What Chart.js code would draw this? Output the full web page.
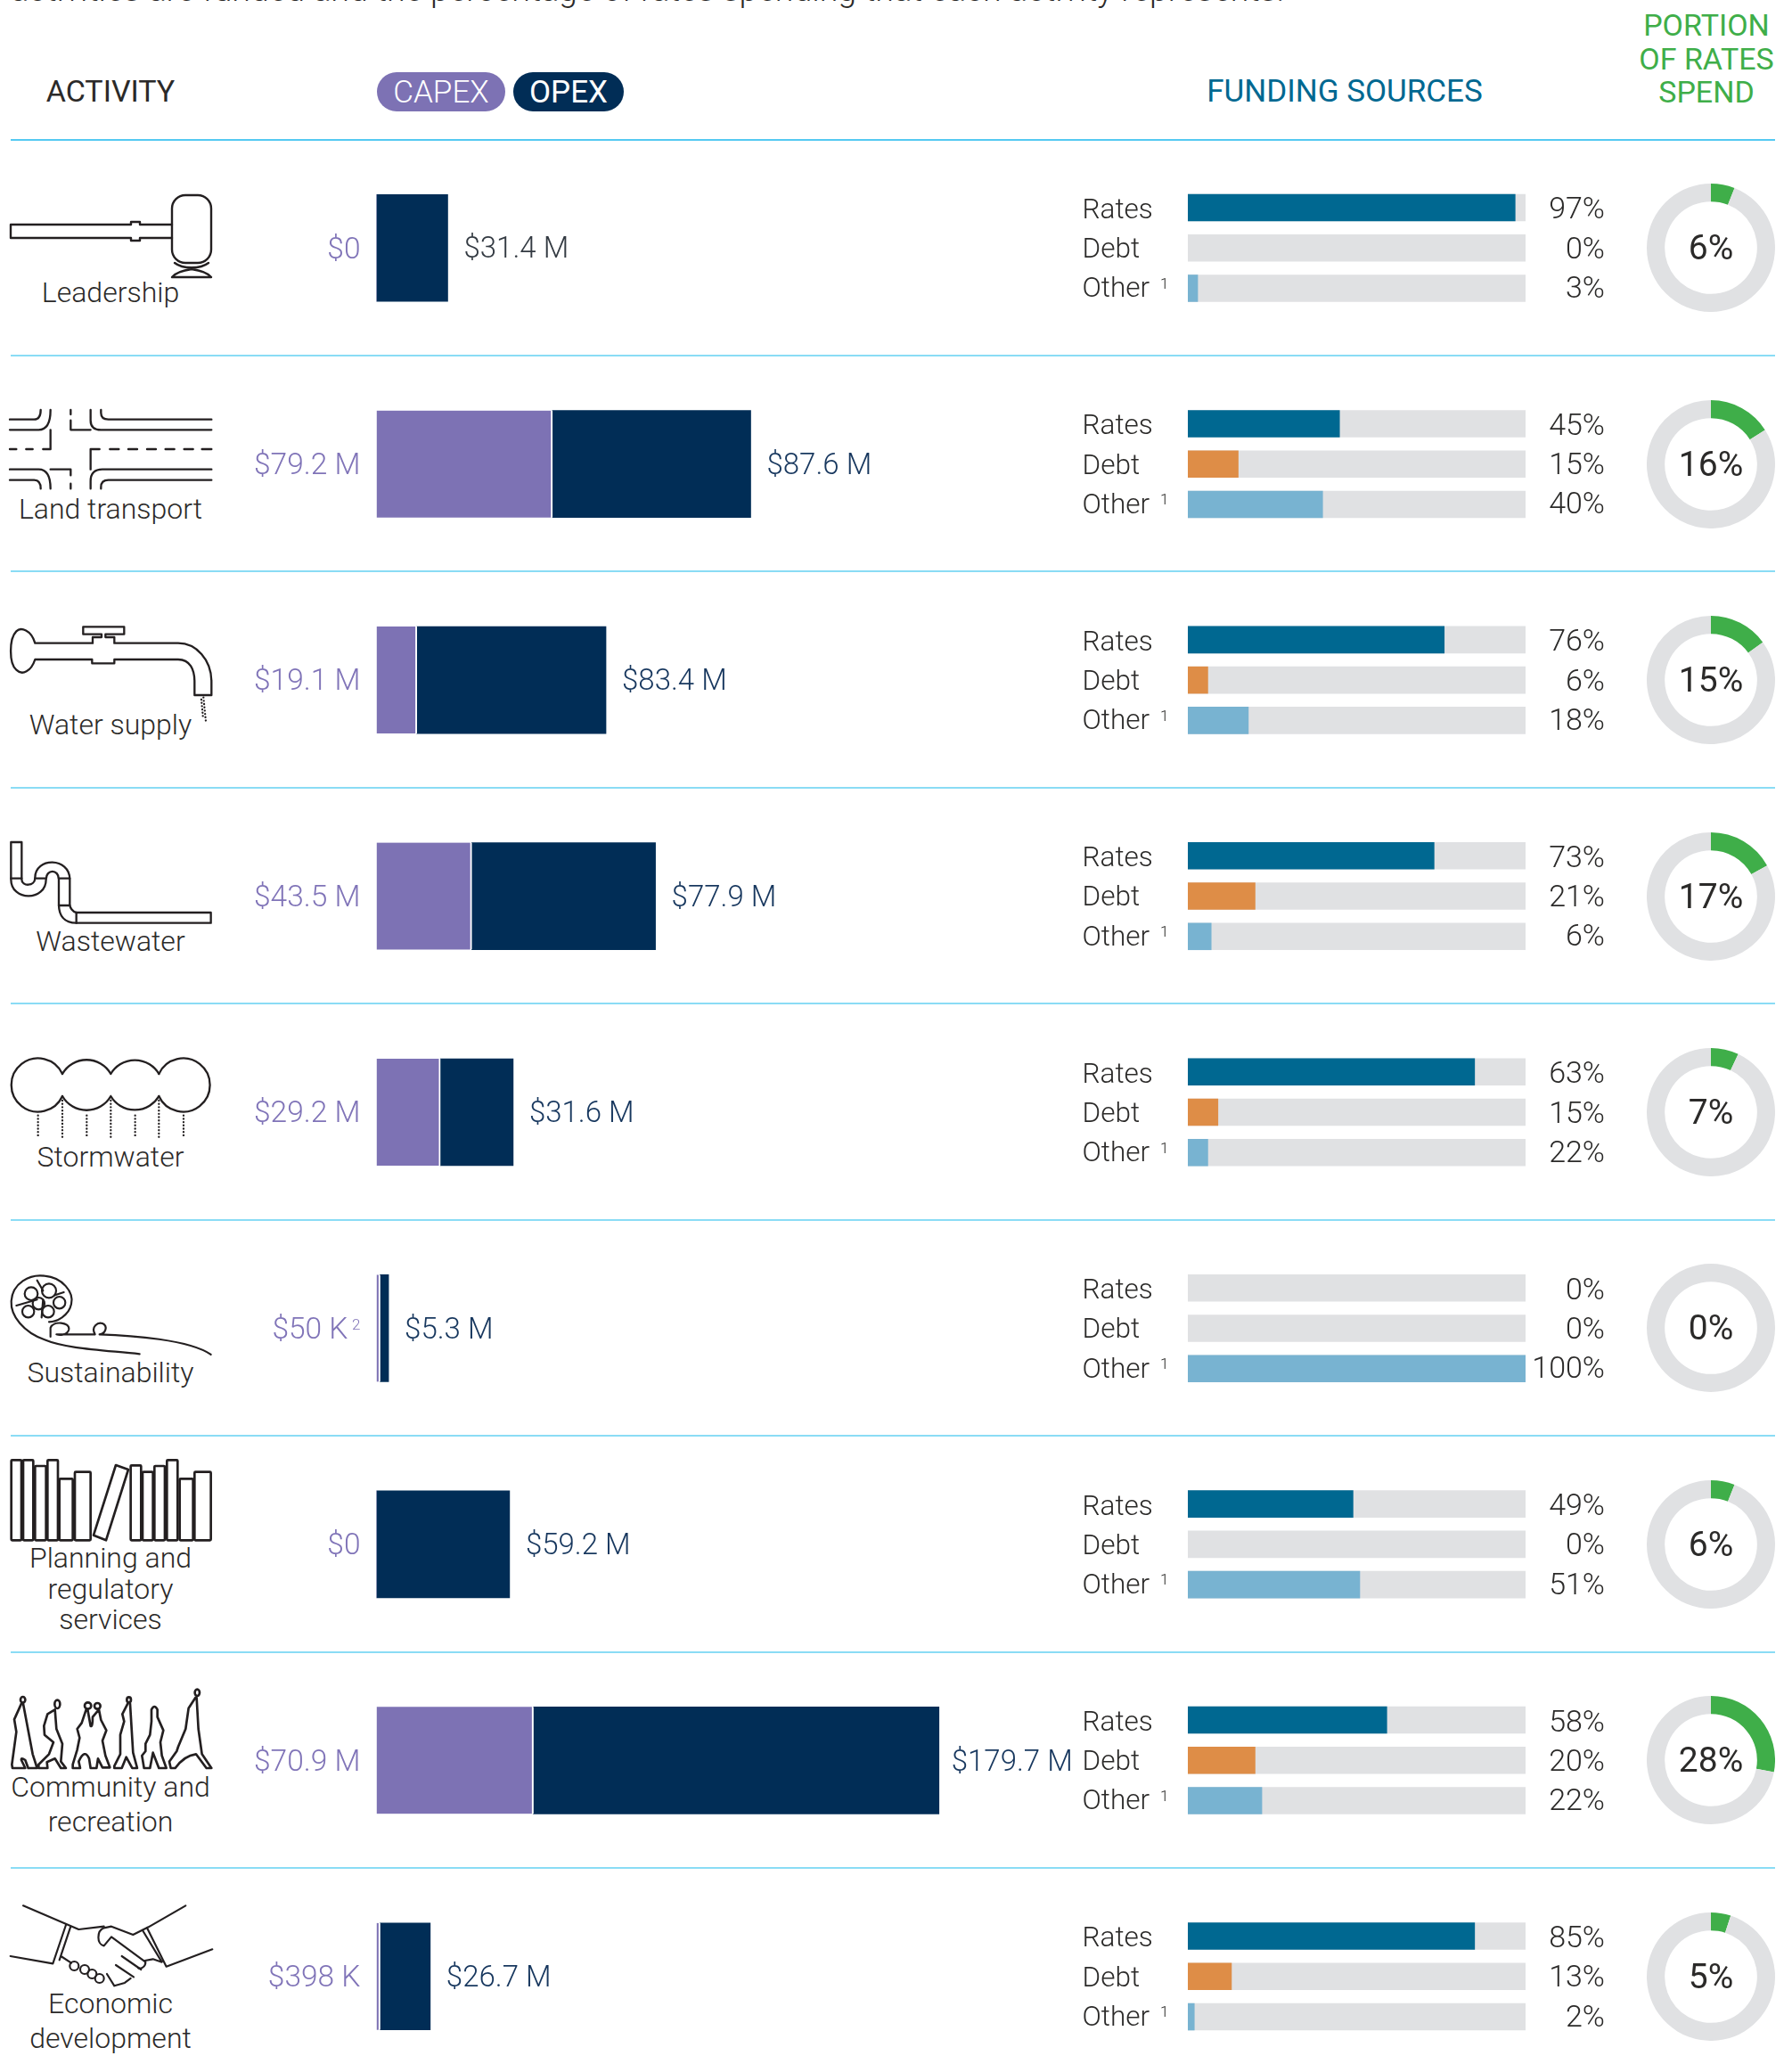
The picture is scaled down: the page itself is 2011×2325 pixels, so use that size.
<!DOCTYPE html>
<html>
<head>
<meta charset="utf-8">
<script src="https://cdn.jsdelivr.net/npm/chart.js@4"></script>
<style>
  html, body { margin: 0; padding: 0; background: #fff; }
  #page { position: relative; width: 2011px; height: 2325px; overflow: hidden; font-family: Roboto, sans-serif; font-weight: 300; color: #2b2a29; }
  #page canvas { position: absolute; }
  .txt { position: absolute; white-space: nowrap; transform: translate(-50%, -50%); font-size: 32px; line-height: 1; }
  .head { font-size: 34px; font-weight: 400; }
  .line { position: absolute; left: 12px; width: 1980px; height: 2px; background: #8adcf5; }
  .pill { position: absolute; top: 81px; height: 44px; border-radius: 22px; color: #fff; font-size: 35px; line-height: 45px; text-align: center; }
  svg { position: absolute; left: 0; top: 0; }
  svg * { fill: none; stroke: #231f20; stroke-linejoin: round; stroke-linecap: round; }
</style>
</head>
<body>
<div id="page">
  <div class="txt" id="intro" style="left:12px;top:-30px;transform:none;font-size:37.5px;">activities are funded and the percentage of rates spending that each activity represents.</div>
  <div class="txt head" style="left:124px;top:102px;">ACTIVITY</div>
  <div class="pill" style="left:423px;width:144px;background:#7d72b4;">CAPEX</div>
  <div class="pill" style="left:576px;width:124px;background:#012d56;font-weight:400;">OPEX</div>
  <div class="txt head" style="left:1509px;top:102px;font-size:35px;color:#006891;">FUNDING SOURCES</div>
  <div class="txt head" style="left:1915px;top:28px;color:#3fae49;">PORTION</div>
  <div class="txt head" style="left:1915px;top:66px;color:#3fae49;">OF RATES</div>
  <div class="txt head" style="left:1915px;top:103px;color:#3fae49;">SPEND</div>

  <svg width="2011" height="2325">
    <!-- gavel -->
    <g transform="translate(0,-1)" stroke-width="2.4">
      <path d="M193 253H157V250H147V253H12V268H147V271H157V268H193"/>
      <rect x="193" y="220" width="44" height="76" rx="15"/>
      <path d="M196 296C205 303 225 303 234 296M193 312H237C232 306 222 304 215 303C208 304 198 306 193 312Z"/>
    </g>
    <!-- roads -->
    <g transform="translate(0,440) scale(0.3333)" stroke-width="7" stroke-linecap="butt">
      <path d="M33 92H115Q137 92 137 60M33 127H130Q170 127 170 60M170 127V192H145M33 192H55M88 192H110"/>
      <path d="M238 60V75M238 95V127H305M305 60V95Q305 127 340 127H712M340 60V70Q340 92 365 92H712"/>
      <path d="M305 260V192H335M370 192H400M432 192H462M495 192H525M557 192H587M620 192H650M680 192H712"/>
      <path d="M33 260H130Q170 260 170 325M33 296H115Q137 296 137 325M170 260H238V280M238 308V325"/>
      <path d="M305 325V300Q305 260 345 260H712M340 325V320Q340 296 365 296H712"/>
    </g>
    <!-- tap -->
    <g transform="translate(0,690) scale(0.3333)" stroke-width="7">
      <path d="M118 95C105 50 70 40 55 55C30 80 30 165 55 185C75 205 105 190 118 150H310V163H385V150H600C640 150 655 185 655 225V270H712V225C712 150 660 95 600 95H385V75H355V65H418V40H280V65H342V75H312V95Z"/>
      <path d="M685 278L693 358M678 285L684 350" stroke-dasharray="0.1 11"/>
    </g>
    <!-- pipe -->
    <g transform="translate(0,930) scale(0.3333)" stroke-width="7">
      <path d="M37 45H73V170C73 195 118 195 118 165C118 95 235 95 235 170V255C235 265 245 280 257 282H710V317H257C215 317 198 290 198 255V170C198 135 155 135 155 170C155 245 37 245 37 170Z"/>
      <path d="M37 167H73M118 167H155M198 167H235M198 258H235M257 282V317"/>
    </g>
    <!-- clouds -->
    <g transform="translate(0,1180) scale(0.3333)" stroke-width="7">
      <path d="M210 75A90 90 0 1 0 210 150M535 75A90 90 0 1 1 535 150"/>
      <path d="M210 75A94 94 0 0 1 373 75M373 75A94 94 0 0 1 535 75M210 150A94 94 0 0 0 373 150M373 150A94 94 0 0 0 535 150"/>
      <path d="M128 215V288M210 165V288M292 215V288M373 165V288M455 215V288M535 165V288M618 215V288" stroke-dasharray="0.1 11"/>
    </g>
    <!-- fern -->
    <g transform="translate(0,1420) scale(0.3333)" stroke-width="6.5">
      <path d="M470 298C350 285 220 280 150 250C80 225 35 170 38 120C42 60 100 28 150 35C210 40 250 90 240 130C232 170 190 190 165 190"/>
      <path d="M170 240V210C180 185 235 190 232 215C228 235 200 235 190 232H320M320 232C305 205 330 190 345 195C365 205 355 230 335 232C440 235 640 250 710 300"/>
      <circle cx="105" cy="95" r="22"/><circle cx="165" cy="85" r="24"/><circle cx="95" cy="155" r="20"/><circle cx="162" cy="155" r="20"/><circle cx="200" cy="125" r="20"/><circle cx="130" cy="128" r="20"/>
      <path d="M125 50L145 85M55 135L125 115M140 175L145 115M185 100L215 90"/>
    </g>
    <!-- books -->
    <g transform="translate(0,1630) scale(0.3333)" stroke-width="8">
      <rect x="38" y="25" width="34" height="270" rx="3"/><rect x="78" y="25" width="34" height="270" rx="3"/><rect x="118" y="45" width="37" height="250" rx="3"/><rect x="160" y="25" width="35" height="270" rx="3"/><rect x="200" y="88" width="45" height="207" rx="3"/><rect x="252" y="65" width="53" height="230" rx="3"/>
      <path d="M390 42L432 57L357 295L315 278Z"/>
      <rect x="440" y="43" width="35" height="252" rx="3"/><rect x="480" y="65" width="35" height="230" rx="3"/><rect x="520" y="45" width="35" height="250" rx="3"/><rect x="562" y="25" width="36" height="270" rx="3"/><rect x="605" y="88" width="45" height="207" rx="3"/><rect x="655" y="65" width="55" height="230" rx="3"/>
    </g>
    <!-- people -->
    <g transform="translate(0,1890) scale(0.3333)" stroke-width="8">
      <ellipse cx="77" cy="52" rx="8" ry="10"/><path d="M72 65L48 118L55 160L40 270L42 282H85L72 255Q70 245 85 255L95 282H125L110 235L78 65"/>
      <ellipse cx="193" cy="67" rx="9" ry="14"/><path d="M185 85L160 100L148 140L150 170L180 195L165 235L130 270V282H160L158 262L185 250L205 282H222L205 260L210 200L190 150L185 85"/>
      <circle cx="296" cy="72" r="11"/><circle cx="328" cy="73" r="10"/><path d="M290 85L275 130L260 150L268 180L260 220L245 270V282H270L265 260Q285 215 300 250L305 282H325L330 250L345 280H370L355 240L345 190L358 155L340 120L333 85L312 110Q312 145 305 140L295 85"/>
      <ellipse cx="434" cy="52" rx="7" ry="9"/><path d="M430 65L412 100L418 125L405 170V235L385 275V282H410L425 245L445 282H462L448 230L438 65"/>
      <path d="M510 85V125L505 170L490 200V225L478 240L485 282H505L515 230L535 282H560L545 240L540 195L550 155L530 110V85Q520 65 510 85Z"/>
      <ellipse cx="664" cy="28" rx="8" ry="11"/><path d="M658 45L635 80L625 150L600 210L595 225L570 260L575 282H590Q620 240 660 235L695 282H712L680 235L668 150L662 45"/>
    </g>
    <!-- handshake -->
    <g transform="translate(0,2130) scale(0.3333)" stroke-width="6.5">
      <path d="M78 25L265 105L350 95M35 195L178 220L222 90M238 95L200 208M205 195L240 218"/>
      <path d="M625 25L500 97L448 123L375 95L350 100C325 110 325 155 350 160L375 130L490 215C490 230 475 240 465 235"/>
      <path d="M715 172L560 230L495 100M480 108L545 215L515 205L488 210"/>
      <path d="M410 195L475 240M390 225L450 265M360 255L385 295L420 285L440 270"/>
      <circle cx="250" cy="228" r="15"/><circle cx="285" cy="240" r="15"/><circle cx="310" cy="255" r="15"/><circle cx="335" cy="270" r="15"/>
    </g>
  </svg>

  <canvas id="spendChart" width="950" height="2182" style="left:270px;top:157px;"></canvas>
  <canvas id="fundingChart" width="620" height="2182" style="left:1210px;top:157px;"></canvas>
</div>

<script>
// activity names, split where the reference breaks the line
var activities = ['Leadership', 'Land transport', 'Water supply', 'Wastewater', 'Stormwater', 'Sustainability', 'Planning and regulatory services', 'Community and recreation', 'Economic development'];
var activityLines = [['Leadership'], ['Land transport'], ['Water supply'], ['Wastewater'], ['Stormwater'], ['Sustainability'], ['Planning and', 'regulatory', 'services'], ['Community and', 'recreation'], ['Economic', 'development']];

// capex / opex, bars as drawn in $M and their printed labels
var capexBars = [0, 78.5, 18, 42.5, 28.5, 1.6, 0, 70, 1.6];
var opexBars = [31.8, 88.5, 84.4, 82, 32.5, 3.8, 59.4, 181, 22.4];
var capexLabels = ['$0', '$79.2 M', '$19.1 M', '$43.5 M', '$29.2 M', '$50 K', '$0', '$70.9 M', '$398 K'];
var capexNotes = ['', '', '', '', '', '2', '', '', ''];
var opexLabels = ['$31.4 M', '$87.6 M', '$83.4 M', '$77.9 M', '$31.6 M', '$5.3 M', '$59.2 M', '$179.7 M', '$26.7 M'];

// funding sources, bars as drawn in % and their printed labels
var ratesBars = [97, 45, 76, 73, 85, 0, 49, 59, 85];
var debtBars = [0, 15, 6, 20, 9, 0, 0, 20, 13];
var otherBars = [3, 40, 18, 7, 6, 100, 51, 22, 2];
var ratesLabels = [97, 45, 76, 73, 63, 0, 49, 58, 85];
var debtLabels = [0, 15, 6, 21, 15, 0, 0, 20, 13];
var otherLabels = [3, 40, 18, 6, 22, 100, 51, 22, 2];
var trackValues = [100, 100, 100, 100, 100, 100, 100, 100, 100];

// portion of rates spend
var portionValues = [6, 16, 15, 17, 7, 0, 6, 28, 5];

var TOP = 157, ROW = 2182 / 9;
var FONT = 'Roboto, sans-serif';
var page = document.getElementById('page');

// row rules and activity names
for (var r = 0; r < 9; r++) {
  var rule = document.createElement('div');
  rule.className = 'line';
  rule.style.top = (TOP - 1.5 + r * ROW) + 'px';
  if (r == 0) rule.style.background = '#55c9f2';
  page.appendChild(rule);

  var names = activityLines[r];
  var offsets = names.length == 1 ? [50] : names.length == 2 ? [30, 69] : [15, 50, 84];
  names.forEach(function (t, i) {
    var d = document.createElement('div');
    d.className = 'txt';
    d.textContent = t;
    d.style.left = '124px';
    d.style.top = (TOP + (r + 0.5) * ROW + offsets[i]) + 'px';
    page.appendChild(d);
  });
}

var spendLabels = {
  id: 'spendLabels',
  afterDatasetsDraw: function (chart) {
    var ctx = chart.ctx, left = chart.scales.x.getPixelForValue(0);
    var opex = chart.getDatasetMeta(1).data;
    ctx.save();
    ctx.textBaseline = 'middle';
    opex.forEach(function (bar, i) {
      var right = left - 18;
      var y = bar.y + 3;
      ctx.fillStyle = '#8074b8';
      ctx.textAlign = 'right';
      if (capexNotes[i]) {
        ctx.font = '300 17px ' + FONT;
        ctx.fillText(capexNotes[i], right, y - 6);
        right -= 14;
      }
      ctx.font = '300 33.5px ' + FONT;
      ctx.fillText(capexLabels[i], right, y);
      ctx.font = '300 33px ' + FONT;
      ctx.fillStyle = i == 0 ? '#333a42' : '#17375e';
      ctx.textAlign = 'left';
      ctx.fillText(opexLabels[i], bar.x + (i == 7 ? 14 : 18), y);
    });
    ctx.restore();
  }
};

new Chart(document.getElementById('spendChart'), {
  type: 'bar',
  data: {
    labels: activities,
    datasets: [
      { label: 'CAPEX', data: capexBars, backgroundColor: '#7d72b4', borderColor: '#fff', borderWidth: { top: 0, right: 2, bottom: 0, left: 0 } },
      { label: 'OPEX', data: opexBars, backgroundColor: '#012d56', borderWidth: 0 }
    ]
  },
  options: {
    indexAxis: 'y',
    responsive: false,
    animation: false,
    devicePixelRatio: 1,
    layout: { padding: { left: 152.5 } },
    barThickness: 120,
    scales: {
      x: { display: false, stacked: true, min: 0, max: 317.1 },
      y: { display: false, stacked: true }
    },
    plugins: { legend: { display: false }, tooltip: { enabled: false } }
  },
  plugins: [spendLabels]
});

var fundingLabels = {
  id: 'fundingLabels',
  afterDatasetsDraw: function (chart) {
    var ctx = chart.ctx;
    var names = ['Rates', 'Debt', 'Other'];
    var printed = [ratesLabels, debtLabels, otherLabels];
    var nudge = [4, 3, 2];
    ctx.save();
    ctx.textBaseline = 'middle';
    ctx.fillStyle = '#2b2a29';
    names.forEach(function (name, s) {
      chart.getDatasetMeta(s).data.forEach(function (bar, i) {
        var y = bar.y + nudge[s];
        ctx.font = '300 31.5px ' + FONT;
        ctx.textAlign = 'left';
        ctx.fillText(name, 4.5, y);
        ctx.font = '300 34px ' + FONT;
        ctx.textAlign = 'right';
        ctx.fillText(printed[s][i] + '%', 591, y);
        if (name == 'Other') {
          ctx.font = '300 17px ' + FONT;
          ctx.textAlign = 'left';
          ctx.fillText('1', 92, y - 6);
        }
      });
    });
    ctx.restore();
  }
};

new Chart(document.getElementById('fundingChart'), {
  type: 'bar',
  data: {
    labels: activities,
    datasets: [
      { label: 'Rates', data: ratesBars, stack: 'rates', backgroundColor: '#006891', order: 0 },
      { label: 'Debt', data: debtBars, stack: 'debt', backgroundColor: '#de8d47', order: 1 },
      { label: 'Other', data: otherBars, stack: 'other', backgroundColor: '#78b3d1', order: 2 },
      { label: 'Rates track', data: trackValues, stack: 'rates', backgroundColor: '#e0e1e3', order: 3 },
      { label: 'Debt track', data: trackValues, stack: 'debt', backgroundColor: '#e0e1e3', order: 4 },
      { label: 'Other track', data: trackValues, stack: 'other', backgroundColor: '#e0e1e3', order: 5 }
    ]
  },
  options: {
    indexAxis: 'y',
    responsive: false,
    animation: false,
    devicePixelRatio: 1,
    layout: { padding: { left: 123, right: 118 } },
    categoryPercentage: 0.56,
    barPercentage: 0.675,
    scales: {
      x: { display: false, stacked: false, min: 0, max: 100 },
      y: { display: false, stacked: true }
    },
    plugins: { legend: { display: false }, tooltip: { enabled: false } }
  },
  plugins: [fundingLabels]
});

// one ring per activity
var ringText = {
  id: 'ringText',
  afterDraw: function (chart) {
    var ctx = chart.ctx;
    ctx.save();
    ctx.font = '400 39px ' + FONT;
    ctx.fillStyle = '#2b2a29';
    ctx.textAlign = 'center';
    ctx.textBaseline = 'middle';
    ctx.fillText(chart.data.datasets[0].data[0] + '%', chart.width / 2, chart.height / 2 + 3);
    ctx.restore();
  }
};

portionValues.forEach(function (value, i) {
  var c = document.createElement('canvas');
  c.width = 144;
  c.height = 144;
  c.style.left = '1848px';
  c.style.top = (TOP + (i + 0.5) * ROW - 72) + 'px';
  page.appendChild(c);
  new Chart(c, {
    type: 'doughnut',
    data: {
      labels: ['Rates spend', 'Rest'],
      datasets: [{ data: [value, 100 - value], backgroundColor: ['#3fae49', '#e0e1e3'], borderWidth: 0 }]
    },
    options: {
      responsive: false,
      animation: false,
      devicePixelRatio: 1,
      cutout: '72%',
      plugins: { legend: { display: false }, tooltip: { enabled: false } }
    },
    plugins: [ringText]
  });
});
</script>
</body>
</html>
